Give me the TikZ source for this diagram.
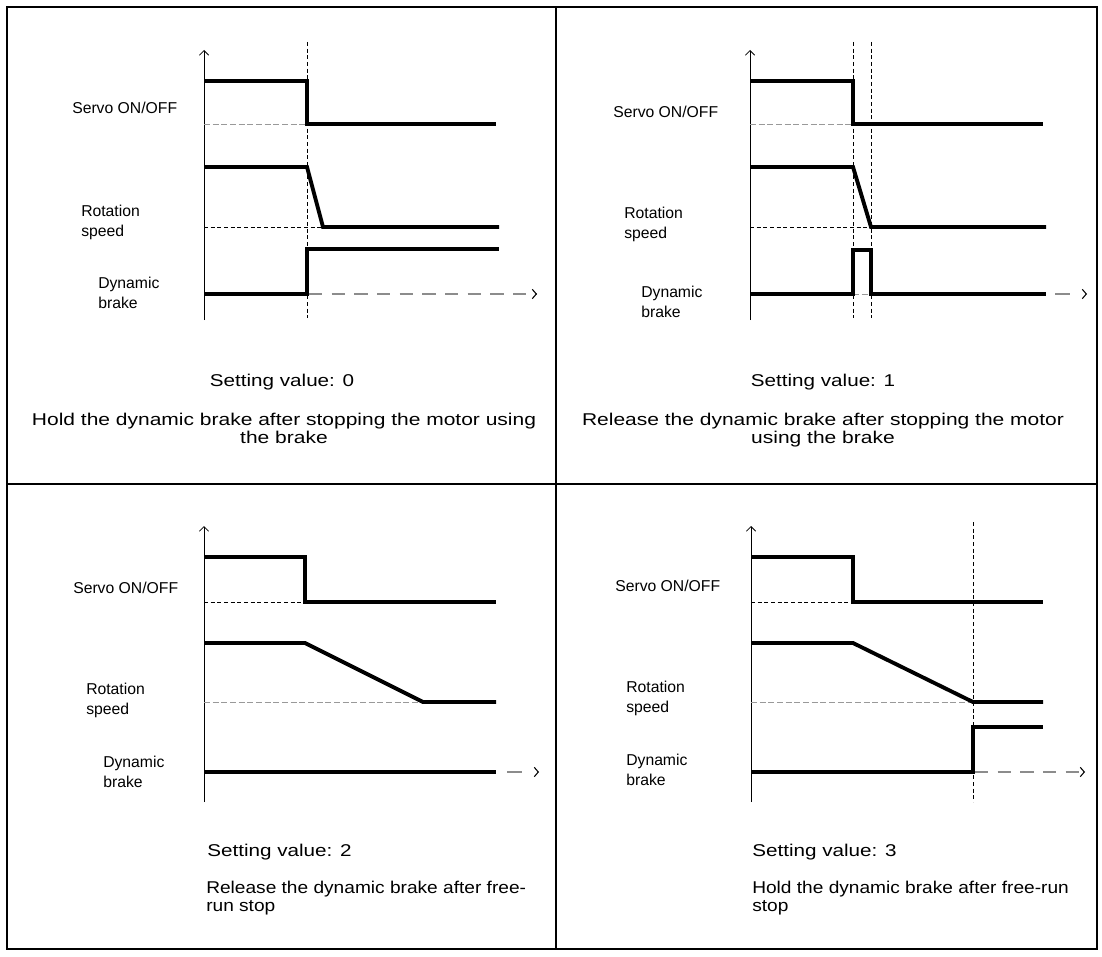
\documentclass[tikz,border=0pt]{standalone}
\usepackage{fontspec}
\setmainfont{Liberation Sans}
\newfontfamily\setfont[FakeStretch=1.21]{Liberation Sans}
\newfontfamily\widefont[FakeStretch=1.23]{Liberation Sans}
\newfontfamily\narrowfont[FakeStretch=1.12]{Liberation Sans}
\usetikzlibrary{arrows.meta, positioning}

\begin{document}
\begin{tikzpicture}[
  x=0.75pt, y=-0.75pt,
  frame/.style={line width=1.6pt},
  axis/.style={line width=0.6pt, -{Straight Barb[length=3.5pt,width=7pt]}},
  sig/.style={line width=2.9pt, line join=miter},
  guide/.style={line width=0.7pt, dash pattern=on 3pt off 2pt},
  refgray/.style={line width=0.7pt, black!40, dash pattern=on 4.5pt off 2pt},
  refblack/.style={line width=0.7pt, dash pattern=on 3pt off 2pt},
  tail/.style={line width=1.4pt, black!45, dash pattern=on 10pt off 7pt,
               -{Straight Barb[length=3pt,width=7pt,color=black,line width=0.8pt]}},
  lbl/.style={anchor=west, align=left, inner sep=0pt,
              font=\fontsize{11.8}{15}\selectfont},
  settext/.style={anchor=base, inner sep=0pt,
                  font=\setfont\fontsize{12.8}{13}\selectfont},
  desctop/.style={anchor=base, align=center, inner sep=0pt,
                  font=\widefont\fontsize{12.8}{13}\selectfont},
  descbot/.style={anchor=base west, align=left, inner sep=0pt,
                  font=\narrowfont\fontsize{12.8}{13}\selectfont}
]
\useasboundingbox (0,0) rectangle (1102,956);

% Table frame
\draw[frame] (7,7) rectangle (1097,949);
\draw[frame] (556,7) -- (556,949);
\draw[frame] (7,484) -- (1097,484);

% Panel 0: hold after brake stop
\draw[axis] (204,320) -- (204,50);
\draw[guide] (307,42) -- (307,318);
\draw[refgray] (204,124) -- (307,124);
\draw[refblack] (204,227) -- (323,227);
\draw[sig] (204,81) -- (307,81) -- (307,124) -- (496,124);
\draw[sig] (204,167) -- (307,167) -- (323,227) -- (499,227);
\draw[tail] (309,294) -- (537,294);
\draw[sig] (204,294) -- (307,294) -- (307,249) -- (499,249);
\node[lbl] (servoA) at (72,108) {Servo ON/OFF};
\node[lbl] (speedA) at (81,222) {Rotation\\speed};
\node[lbl] (brakeA) at (98,293) {Dynamic\\brake};
\node[settext] (setA) at (282,386) {Setting value: 0};
\node[desctop] (descA) at (284,443) {Hold the dynamic brake after stopping the motor using\\the brake};

% Panel 1: release after brake stop
\draw[axis] (750,320) -- (750,50);
\draw[guide] (853,42) -- (853,318);
\draw[guide] (871,42) -- (871,318);
\draw[refgray] (750,124) -- (853,124);
\draw[refblack] (750,227) -- (871,227);
\draw[refgray] (853,294) -- (871,294);
\draw[sig] (750,81) -- (853,81) -- (853,124) -- (1043,124);
\draw[sig] (750,167) -- (853,167) -- (871,227) -- (1046,227);
\draw[sig] (750,294) -- (853,294) -- (853,250) -- (871,250) -- (871,294) -- (1046,294);
\draw[tail, dash pattern=on 11pt off 30pt] (1055,294) -- (1087,294);
\node[lbl] (servoB) at (613,112) {Servo ON/OFF};
\node[lbl] (speedB) at (624,224) {Rotation\\speed};
\node[lbl] (brakeB) at (641,302) {Dynamic\\brake};
\node[settext] (setB) at (823,386) {Setting value: 1};
\node[desctop] (descB) at (823,443) {Release the dynamic brake after stopping the motor\\using the brake};

% Panel 2: release after free-run stop
\draw[axis] (204,802) -- (204,526);
\draw[refblack] (204,602) -- (305,602);
\draw[refgray] (204,702) -- (423,702);
\draw[sig] (204,557) -- (305,557) -- (305,602) -- (496,602);
\draw[sig] (204,643) -- (305,643) -- (423,702) -- (496,702);
\draw[sig] (204,772) -- (496,772);
\draw[tail, dash pattern=on 11pt off 30pt] (507,772) -- (539,772);
\node[lbl] (servoC) at (73,588) {Servo ON/OFF};
\node[lbl] (speedC) at (86,700) {Rotation\\speed};
\node[lbl] (brakeC) at (103,772) {Dynamic\\brake};
\node[settext, anchor=base west] (setC) at (207,856) {Setting value: 2};
\node[descbot] (descC) at (206,911) {Release the dynamic brake after free-\\run stop};

% Panel 3: hold after free-run stop
\draw[axis] (751,802) -- (751,526);
\draw[guide] (973,522) -- (973,802);
\draw[refblack] (751,602) -- (853,602);
\draw[refgray] (751,702) -- (973,702);
\draw[sig] (751,557) -- (853,557) -- (853,602) -- (1043,602);
\draw[sig] (751,643) -- (853,643) -- (973,702) -- (1043,702);
\draw[tail] (975,772) -- (1085,772);
\draw[sig] (751,772) -- (973,772) -- (973,727) -- (1043,727);
\node[lbl] (servoD) at (615,586) {Servo ON/OFF};
\node[lbl] (speedD) at (626,698) {Rotation\\speed};
\node[lbl] (brakeD) at (626,770) {Dynamic\\brake};
\node[settext, anchor=base west] (setD) at (752,856) {Setting value: 3};
\node[descbot] (descD) at (752,911) {Hold the dynamic brake after free-run\\stop};

\end{tikzpicture}
\end{document}
